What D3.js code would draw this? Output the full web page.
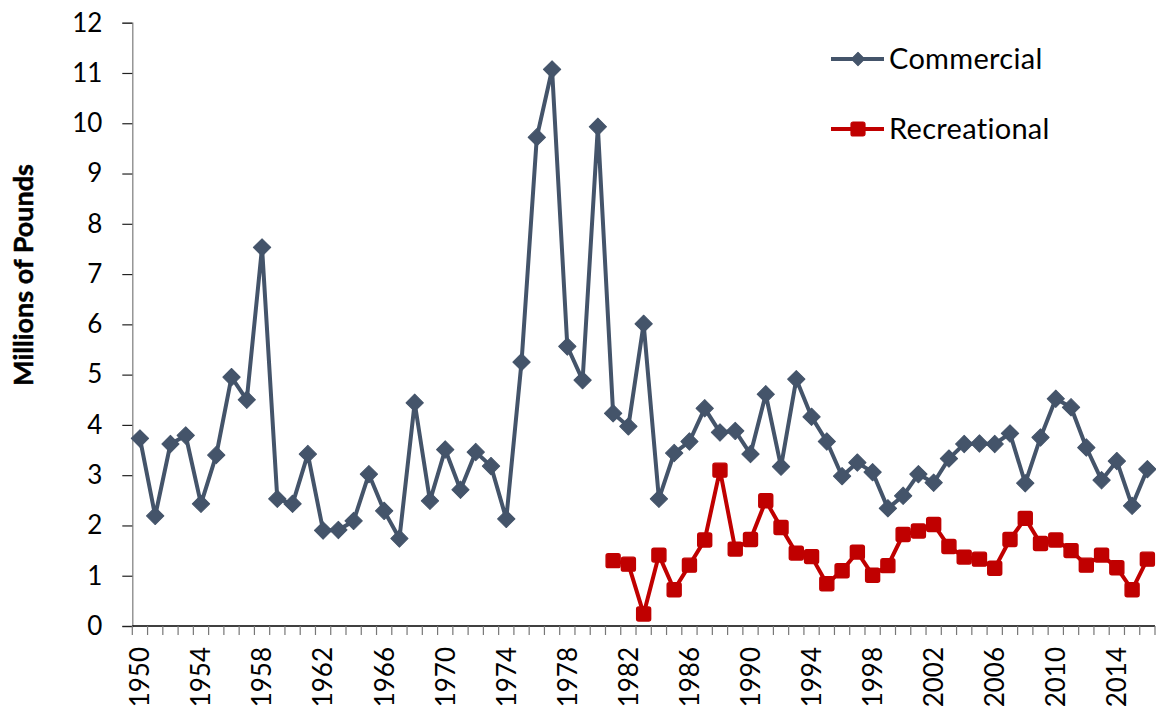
<!DOCTYPE html>
<html>
<head>
<meta charset="utf-8">
<script src="https://cdn.jsdelivr.net/npm/d3@7"></script>
<style>
  html, body { margin: 0; padding: 0; background: #fff; }
  svg { display: block; font-family: Lato, "Open Sans", sans-serif; }
</style>
</head>
<body>
<svg id="chart" width="1156" height="715"></svg>
<script>
const years = d3.range(1950, 2017);
const commercial = [3.73, 2.19, 3.62, 3.79, 2.43, 3.40, 4.95, 4.50, 7.53, 2.53,
  2.43, 3.42, 1.90, 1.91, 2.09, 3.02, 2.29, 1.74, 4.44, 2.49,
  3.51, 2.71, 3.46, 3.18, 2.13, 5.25, 9.72, 11.07, 5.56, 4.89,
  9.93, 4.23, 3.97, 6.01, 2.53, 3.44, 3.67, 4.33, 3.85, 3.88,
  3.42, 4.61, 3.17, 4.91, 4.16, 3.67, 2.98, 3.25, 3.06, 2.34,
  2.59, 3.02, 2.85, 3.33, 3.62, 3.63, 3.62, 3.83, 2.84, 3.75,
  4.52, 4.35, 3.55, 2.90, 3.28, 2.39, 3.12];
const recYears = d3.range(1981, 2017);
const recreational = [1.30, 1.23, 0.24, 1.41, 0.72, 1.21, 1.71, 3.10, 1.53, 1.72,
  2.49, 1.96, 1.45, 1.38, 0.84, 1.10, 1.47, 1.01, 1.20, 1.82,
  1.89, 2.02, 1.58, 1.37, 1.33, 1.15, 1.72, 2.14, 1.64, 1.71,
  1.50, 1.21, 1.41, 1.16, 0.72, 1.33];
const yTicks = d3.range(0, 13);
const yearLabels = d3.range(1950, 2017, 4);
const seriesNames = ["Commercial", "Recreational"];
const colors = ["#44546A", "#C00000"];

const svg = d3.select("#chart");
const mLeft = 132.3, mRight = 1155, mTop = 22.7, mBottom = 626;

const x = d3.scaleBand().domain(years).range([mLeft, mRight]).padding(0);
const y = d3.scaleLinear().domain([0, 12]).range([mBottom, mTop]);
const cx = d => x(d) + x.bandwidth() / 2;

// Y axis
const yAxis = svg.append("g").attr("transform", `translate(${mLeft},0)`)
  .call(d3.axisLeft(y).tickValues(yTicks).tickSize(10).tickPadding(20).tickFormat(d3.format("d")));
yAxis.select(".domain").attr("stroke", "#868686").attr("stroke-width", 1.3);
yAxis.selectAll(".tick line").attr("stroke", "#222").attr("stroke-width", 1.2);
yAxis.selectAll(".tick text").attr("font-size", 26).attr("fill", "#000")
  .attr("font-family", "Lato, sans-serif");

// X axis: ticks at band boundaries
const xg = svg.append("g").attr("transform", `translate(0,${mBottom})`);
xg.append("line").attr("x1", mLeft).attr("x2", mRight).attr("stroke", "#000").attr("stroke-width", 1.5);
const bounds = years.map(d => x(d)).concat([mRight]);
xg.selectAll("line.tk").data(bounds).join("line").attr("class", "tk")
  .attr("x1", d => d).attr("x2", d => d).attr("y1", 0).attr("y2", 9)
  .attr("stroke", "#777").attr("stroke-width", 1.2);
xg.selectAll("text.yl").data(yearLabels).join("text").attr("class", "yl")
  .attr("transform", d => `translate(${cx(d)},21) rotate(-90)`)
  .attr("text-anchor", "end").attr("dy", "0.36em")
  .attr("font-size", 26).attr("fill", "#000").text(d => d);

// Y label
svg.append("text").attr("transform", "translate(33,275) rotate(-90)")
  .attr("text-anchor", "middle").attr("font-size", 27).attr("font-weight", "bold")
  .attr("stroke", "#000").attr("stroke-width", 0.5)
  .attr("fill", "#000").text("Millions of Pounds");

const line = d3.line().x(d => cx(d[0])).y(d => y(d[1]));
const comData = years.map((yr, i) => [yr, commercial[i]]);
const recData = recYears.map((yr, i) => [yr, recreational[i]]);

const diamond = d3.symbol().type(d3.symbolSquare).size(150);

svg.append("path").datum(comData).attr("d", line).attr("fill", "none")
  .attr("stroke", colors[0]).attr("stroke-width", 4).attr("stroke-linejoin", "round");
svg.append("g").selectAll("path").data(comData).join("path")
  .attr("d", diamond).attr("fill", colors[0])
  .attr("stroke", colors[0]).attr("stroke-width", 1).attr("stroke-linejoin", "round")
  .attr("transform", d => `translate(${cx(d[0])},${y(d[1])}) rotate(45)`);

svg.append("path").datum(recData).attr("d", line).attr("fill", "none")
  .attr("stroke", colors[1]).attr("stroke-width", 4).attr("stroke-linejoin", "round");
svg.append("g").selectAll("rect").data(recData).join("rect")
  .attr("x", d => cx(d[0]) - 7).attr("y", d => y(d[1]) - 7)
  .attr("width", 14).attr("height", 14).attr("rx", 2)
  .attr("fill", colors[1]).attr("stroke", colors[1]).attr("stroke-width", 1.4);

// Legend
const legY = [59, 129];
const leg = svg.append("g");
seriesNames.forEach((name, i) => {
  const g = leg.append("g").attr("transform", `translate(0,${legY[i]})`);
  g.append("line").attr("x1", 831).attr("x2", 884).attr("stroke", colors[i]).attr("stroke-width", 4);
  if (i === 0) {
    g.append("path").attr("d", d3.symbol().type(d3.symbolSquare).size(90)())
      .attr("transform", "translate(858,0) rotate(45)").attr("fill", colors[i])
      .attr("stroke", colors[i]).attr("stroke-width", 1).attr("stroke-linejoin", "round");
  } else {
    g.append("rect").attr("x", 851).attr("y", -7).attr("width", 14).attr("height", 14)
      .attr("rx", 2).attr("fill", colors[i]).attr("stroke", colors[i]).attr("stroke-width", 1.2);
  }
  g.append("text").attr("x", 889).attr("dy", "0.36em").attr("font-size", 29)
    .attr("letter-spacing", 0.3).attr("fill", "#000").text(name);
});
</script>
</body>
</html>
